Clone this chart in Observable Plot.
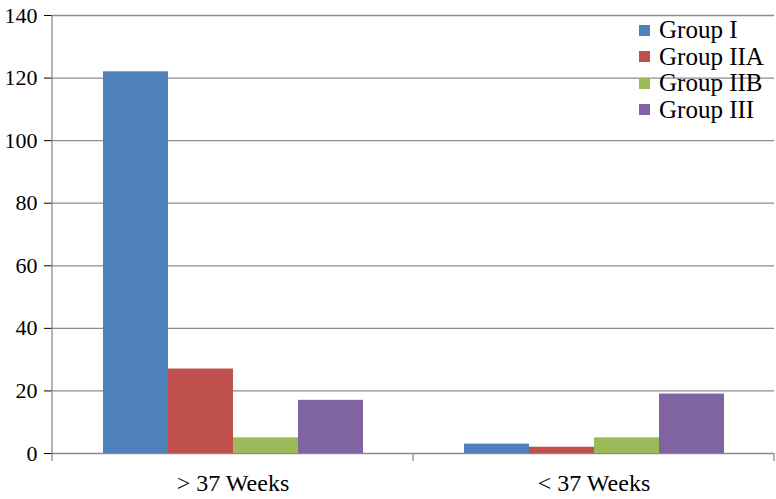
<!DOCTYPE html>
<html>
<head>
<meta charset="utf-8">
<script src="https://cdn.jsdelivr.net/npm/d3@7"></script>
<script src="https://cdn.jsdelivr.net/npm/@observablehq/plot@0.6"></script>
<style>
  html, body { margin: 0; padding: 0; background: #fff; }
  #wrap { position: relative; width: 776px; height: 499px; font-family: "Liberation Serif", serif; }
  #legend { position: absolute; left: 639px; top: 17px; font-size: 25px; line-height: 26.5px; color: #000; }
  #legend .row { display: flex; align-items: center; white-space: nowrap; }
  #legend .sw { width: 11px; height: 11px; margin-right: 9px; }
</style>
</head>
<body>
<div id="wrap"></div>
<script>
// ---- data ----
const categories = ["> 37 Weeks", "< 37 Weeks"];
const groups = ["Group I", "Group IIA", "Group IIB", "Group III"];
const groupI   = [122, 3];
const groupIIA = [27, 2];
const groupIIB = [5, 5];
const groupIII = [17, 19];
const colors = ["#4F81BD", "#C0504D", "#9BBB59", "#8064A2"];
const yTicks = [0, 20, 40, 60, 80, 100, 120, 140];

const series = [groupI, groupIIA, groupIIB, groupIII];
const rows = [];
categories.forEach((c, i) => groups.forEach((g, j) => rows.push({category: c, group: g, value: series[j][i]})));

const gridColor = "#8c8c8c";

const plot = Plot.plot({
  width: 776,
  height: 499,
  marginLeft: 52,
  marginRight: 2,
  marginTop: 15,
  marginBottom: 46,
  style: {fontFamily: "Liberation Serif", fontSize: "22px"},
  fx: {domain: categories, padding: 0, axis: "bottom", tickSize: 0, tickPadding: 20, label: null},
  x: {domain: groups, paddingInner: 0, paddingOuter: 0.756, axis: null},
  y: {domain: [0, 140], ticks: yTicks, tickSize: 8, tickPadding: 7, label: null, grid: false},
  color: {domain: groups, range: colors},
  marks: [
    Plot.ruleY(yTicks, {stroke: gridColor, strokeWidth: 1.3}),
    Plot.barY(rows, {fx: "category", x: "group", y: "value", fill: "group"})
  ]
});
document.getElementById("wrap").appendChild(plot);

const svg = d3.select(plot);
svg.select('[aria-label="fx-axis tick label"]').attr("font-size", 24);
svg.select('[aria-label="y-axis tick"]').attr("stroke", gridColor);

// axis line and category boundary ticks, from the plot's own scales
const fxDesc = plot.scale("fx");
const yDesc = plot.scale("y");
const fxBand = d3.scaleBand().domain(fxDesc.domain).range(fxDesc.range).padding(0);
const yLin = d3.scaleLinear().domain(yDesc.domain).range(yDesc.range);
const g = svg.append("g").attr("stroke", gridColor).attr("stroke-width", 1.3);
const x0 = fxBand(categories[0]);
g.append("line").attr("x1", x0).attr("x2", x0).attr("y1", yLin(0)).attr("y2", yLin(140));
const bounds = categories.map(c => fxBand(c)).concat([fxBand(categories[categories.length - 1]) + fxBand.bandwidth()]);
bounds.forEach(b => {
  g.append("line").attr("x1", b).attr("x2", b).attr("y1", yLin(0)).attr("y2", yLin(0) + 8);
});

// legend
const legend = document.createElement("div");
legend.id = "legend";
groups.forEach((grp, i) => {
  const row = document.createElement("div");
  row.className = "row";
  const sw = document.createElement("span");
  sw.className = "sw";
  sw.style.background = colors[i];
  const t = document.createElement("span");
  t.textContent = grp;
  row.appendChild(sw);
  row.appendChild(t);
  legend.appendChild(row);
});
document.getElementById("wrap").appendChild(legend);
</script>
</body>
</html>
